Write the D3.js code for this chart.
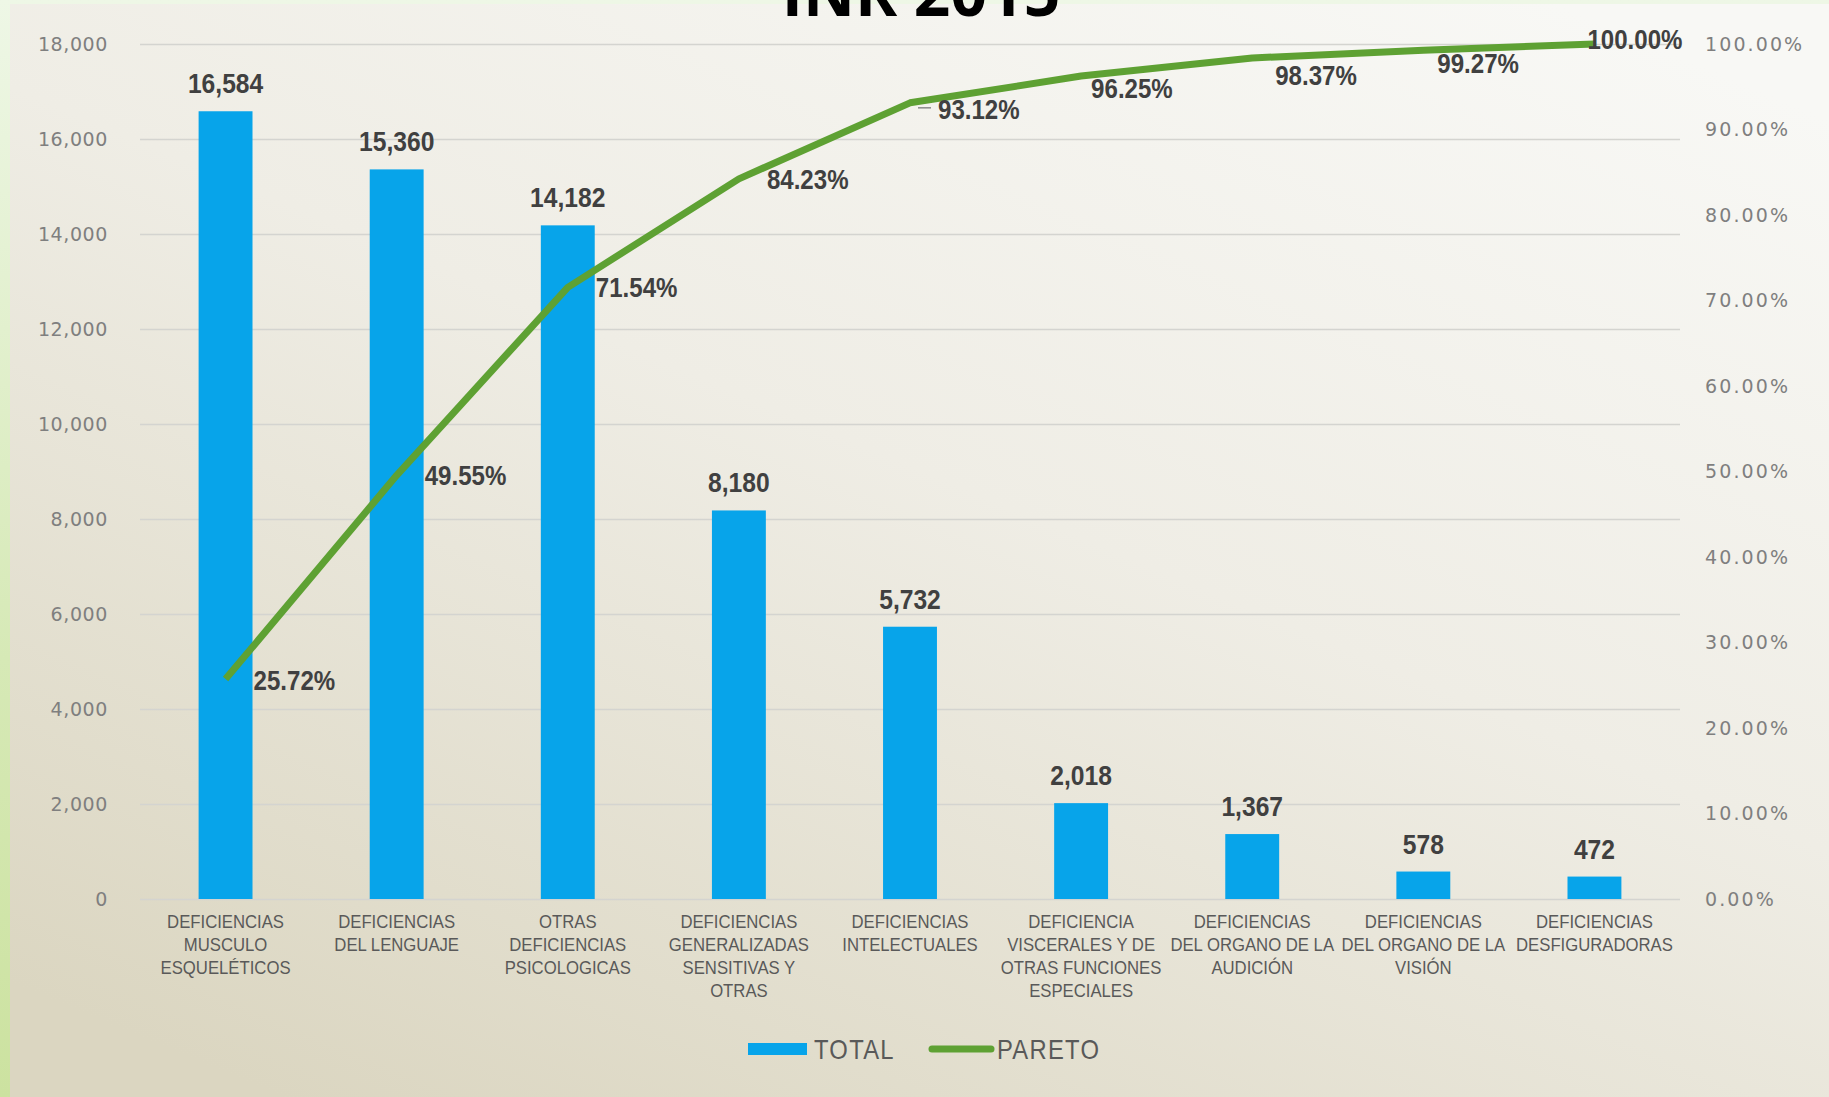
<!DOCTYPE html>
<html>
<head>
<meta charset="utf-8">
<script src="https://cdn.jsdelivr.net/npm/d3@7"></script>
<style>
  body { margin: 0; overflow: hidden; }
  svg { display: block; }
</style>
</head>
<body>
<div id="chart-container"></div>
<script>
let width = 1829;
let height = 1097;

// data
const categories = [
  ["DEFICIENCIAS", "MUSCULO", "ESQUELÉTICOS"],
  ["DEFICIENCIAS", "DEL LENGUAJE"],
  ["OTRAS", "DEFICIENCIAS", "PSICOLOGICAS"],
  ["DEFICIENCIAS", "GENERALIZADAS", "SENSITIVAS Y", "OTRAS"],
  ["DEFICIENCIAS", "INTELECTUALES"],
  ["DEFICIENCIA", "VISCERALES Y DE", "OTRAS FUNCIONES", "ESPECIALES"],
  ["DEFICIENCIAS", "DEL ORGANO DE LA", "AUDICIÓN"],
  ["DEFICIENCIAS", "DEL ORGANO DE LA", "VISIÓN"],
  ["DEFICIENCIAS", "DESFIGURADORAS"],
];
const totals = [16584, 15360, 14182, 8180, 5732, 2018, 1367, 578, 472];
const pareto = [25.72, 49.55, 71.54, 84.23, 93.12, 96.25, 98.37, 99.27, 100.0];
const leftTicks = [0, 2000, 4000, 6000, 8000, 10000, 12000, 14000, 16000, 18000];
const rightTicks = [0, 10, 20, 30, 40, 50, 60, 70, 80, 90, 100];
const seriesNames = ["TOTAL", "PARETO"];
const title = "INR 2015";

// label nudges for pareto labels (dx, dy)
const nudge = [[28, 1], [28, 0], [28, 0], [28, 0], [28, 6], [10, 12], [23, 17], [14, 13], [-7, -5]];

const barColor = "#07a4ea";
const lineColor = "#5ea133";
const narrow = "'Liberation Sans', Arial, sans-serif";
const keys = categories.map((c, i) => i);

var svg = d3
  .select("#chart-container")
  .append("svg")
  .attr("width", width)
  .attr("height", height);

// background
var defs = svg.append("defs");
var gGreen = defs.append("linearGradient").attr("id", "green").attr("x1", 0).attr("y1", 0).attr("x2", 0).attr("y2", 1);
gGreen.append("stop").attr("offset", "0%").attr("stop-color", "#eef7e6");
gGreen.append("stop").attr("offset", "60%").attr("stop-color", "#d6e9b6");
gGreen.append("stop").attr("offset", "100%").attr("stop-color", "#cce2a0");
var gPanel = defs.append("linearGradient").attr("id", "panel").attr("x1", 0.85).attr("y1", 0).attr("x2", 0.15).attr("y2", 1);
gPanel.append("stop").attr("offset", "0%").attr("stop-color", "#f8f8f5");
gPanel.append("stop").attr("offset", "45%").attr("stop-color", "#efede5");
gPanel.append("stop").attr("offset", "100%").attr("stop-color", "#dbd6c1");

svg.append("rect").attr("width", width).attr("height", height).attr("fill", "url(#green)");
svg.append("rect").attr("x", 10).attr("y", 4).attr("width", width - 10).attr("height", height - 4).attr("fill", "url(#panel)");

// title (cut off at top)
svg.append("text")
  .attr("x", 921)
  .attr("y", 16)
  .attr("text-anchor", "middle")
  .style("font-family", "'Open Sans', sans-serif")
  .style("font-weight", "bold")
  .style("font-size", "64px")
  .style("fill", "#000")
  .text(title);

// scales
let xScale = d3.scaleBand().domain(keys).range([140, 1680]).paddingInner(0.685).paddingOuter(0.3425);
let yScale = d3.scaleLinear().domain([0, 18000]).range([899, 44]);
let pScale = d3.scaleLinear().domain([0, 100]).range([899, 44]);
let cx = (i) => xScale(i) + xScale.bandwidth() / 2;

// gridlines
svg.append("g")
  .selectAll("line")
  .data(leftTicks)
  .enter()
  .append("line")
  .attr("x1", 140)
  .attr("x2", 1680)
  .attr("y1", (d) => yScale(d) + 0.5)
  .attr("y2", (d) => yScale(d) + 0.5)
  .style("stroke", "#d4d4d0")
  .style("stroke-width", 1.3);

// left axis
let leftAxis = svg.append("g")
  .attr("transform", "translate(108,0)")
  .call(d3.axisLeft(yScale).tickValues(leftTicks).tickFormat(d3.format(",")).tickSize(0).tickPadding(0));
leftAxis.select(".domain").remove();
leftAxis.selectAll("text")
  .style("font-family", "'DejaVu Sans', sans-serif")
  .style("font-size", "19px")
  .style("letter-spacing", "0.6px")
  .style("fill", "#7f7f7f");

// right axis
let rightAxis = svg.append("g")
  .attr("transform", "translate(1705,0)")
  .call(d3.axisRight(pScale).tickValues(rightTicks).tickFormat((d) => d3.format(".2f")(d) + "%").tickSize(0).tickPadding(0));
rightAxis.select(".domain").remove();
rightAxis.selectAll("text")
  .style("font-family", "'DejaVu Sans', sans-serif")
  .style("font-size", "19px")
  .style("letter-spacing", "2.1px")
  .style("fill", "#7f7f7f");

// bars
svg.append("g")
  .selectAll("rect")
  .data(totals)
  .enter()
  .append("rect")
  .attr("x", (d, i) => xScale(i))
  .attr("y", (d) => yScale(d))
  .attr("width", xScale.bandwidth())
  .attr("height", (d) => yScale(0) - yScale(d))
  .style("fill", barColor);

// bar labels
svg.append("g")
  .selectAll("text")
  .data(totals)
  .enter()
  .append("text")
  .attr("transform", (d, i) => `translate(${cx(i)},${yScale(d) - 18}) scale(0.88,1)`)
  .attr("text-anchor", "middle")
  .style("font-family", narrow)
  .style("font-weight", "bold")
  .style("font-size", "28px")
  .style("fill", "#404040")
  .text((d) => d3.format(",")(d));

// category labels
let cat = svg.append("g")
  .selectAll("text")
  .data(categories)
  .enter()
  .append("text")
  .attr("transform", (d, i) => `translate(${cx(i)},0) scale(0.88,1)`)
  .attr("text-anchor", "middle")
  .style("font-family", narrow)
  .style("font-size", "19px")
  .style("fill", "#595959");
cat.selectAll("tspan")
  .data((d) => d)
  .enter()
  .append("tspan")
  .attr("x", 0)
  .attr("y", (d, j) => 928 + j * 23)
  .text((d) => d);

// pareto line
let line = d3.line()
  .x((d, i) => cx(i))
  .y((d) => pScale(d));

svg.append("path")
  .datum(pareto)
  .attr("d", line)
  .style("fill", "none")
  .style("stroke", lineColor)
  .style("stroke-width", 7)
  .style("stroke-linejoin", "round");

// leader line for 93.12%
svg.append("line")
  .attr("x1", cx(4) + 8)
  .attr("x2", cx(4) + 21)
  .attr("y1", pScale(pareto[4]) + 5)
  .attr("y2", pScale(pareto[4]) + 5)
  .style("stroke", "#8a8a8a")
  .style("stroke-width", 1.5);

// pareto labels
svg.append("g")
  .selectAll("text")
  .data(pareto)
  .enter()
  .append("text")
  .attr("transform", (d, i) => `translate(${cx(i) + nudge[i][0]},${pScale(d) + nudge[i][1]}) scale(0.86,1)`)
  .attr("dy", "0.35em")
  .style("font-family", narrow)
  .style("font-weight", "bold")
  .style("font-size", "28px")
  .style("fill", "#404040")
  .text((d) => d3.format(".2f")(d) + "%");

// legend
let legend = svg.append("g");
legend.append("rect")
  .attr("x", 748).attr("y", 1043).attr("width", 59).attr("height", 12)
  .style("fill", barColor);
legend.append("line")
  .attr("x1", 932).attr("x2", 991).attr("y1", 1049).attr("y2", 1049)
  .style("stroke", lineColor).style("stroke-width", 7).style("stroke-linecap", "round");
legend.selectAll("text")
  .data(seriesNames)
  .enter()
  .append("text")
  .attr("transform", (d, i) => `translate(${i === 0 ? 814 : 997},1049) scale(0.85,1)`)
  .attr("dy", "0.35em")
  .style("font-family", narrow)
  .style("font-size", "28px")
  .style("letter-spacing", "1.5px")
  .style("fill", "#595959")
  .text((d) => d);
</script>
</body>
</html>
